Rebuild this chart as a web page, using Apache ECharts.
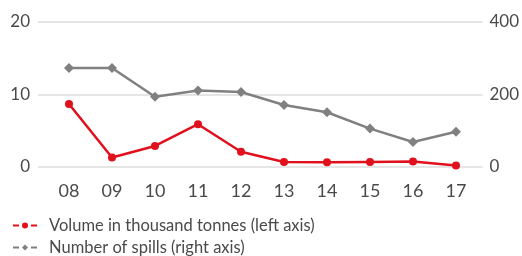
<!DOCTYPE html>
<html><head><meta charset="utf-8">
<script src="https://cdn.jsdelivr.net/npm/echarts@6/dist/echarts.min.js"></script>
<style>html,body{margin:0;padding:0;background:#fff}#c{width:522px;height:256px}</style>
</head><body><div id="c"></div>
<script>
const categories = ['08','09','10','11','12','13','14','15','16','17'];
const volume = [8.7, 1.3, 2.9, 5.9, 2.1, 0.7, 0.65, 0.7, 0.75, 0.2];
const spills = [273, 273, 194, 211, 207, 171, 151, 106, 69, 97];
const leftTicks = [0, 10, 20];
const rightTicks = [0, 200, 400];
const seriesNames = ['Volume in thousand tonnes (left axis)', 'Number of spills (right axis)'];

const RED = '#e0101c', GRAY = '#808080', TXT = '#4a4a4a';
const FONT = 'Lato';
const ICON_DOT = 'path://M0,2h6v2h-6z M9,3a3,3 0 1,0 6,0a3,3 0 1,0 -6,0z M18,2h6v2h-6z';
const ICON_DIA = 'path://M0,2h6v2h-6z M12,0l3,3l-3,3l-3,-3z M18,2h6v2h-6z';
const legendBase = (name, top, icon) => ({
  orient: 'horizontal', left: 8, top: top, itemWidth: 24, itemHeight: 6, itemGap: 0,
  icon: icon,
  textStyle: {color: TXT, fontSize: 16.5, fontFamily: FONT, padding: [0,0,0,7]},
  data: [name]
});
const chart = echarts.init(document.getElementById('c'), null, {renderer:'canvas'});
chart.setOption({
  animation: false,
  textStyle: {fontFamily: FONT},
  grid: [
    {left: 69, right: 66, top: 22, bottom: 89},
    {left: 38, right: 39, top: 22, bottom: 89}
  ],
  xAxis: [
    {gridIndex: 0, type: 'category', data: categories, boundaryGap: false,
     axisLine: {show: false}, axisTick: {show: false},
     axisLabel: {color: TXT, fontSize: 18, fontFamily: FONT, margin: 15}},
    {gridIndex: 1, type: 'category', data: categories, show: false}
  ],
  yAxis: [
    {gridIndex: 0, type: 'value', min: leftTicks[0], max: leftTicks[2], interval: 10, show: false},
    {gridIndex: 0, type: 'value', min: rightTicks[0], max: rightTicks[2], interval: 200, show: false},
    {gridIndex: 1, type: 'value', position: 'left', min: leftTicks[0], max: leftTicks[2], interval: 10,
     axisLine: {show: false}, axisTick: {show: false},
     axisLabel: {color: TXT, fontSize: 17, fontFamily: FONT, margin: 8},
     splitLine: {lineStyle: {color: '#dcdcdc', width: 1.5}}},
    {gridIndex: 1, type: 'value', position: 'right', min: rightTicks[0], max: rightTicks[2], interval: 200,
     axisLine: {show: false}, axisTick: {show: false},
     axisLabel: {color: TXT, fontSize: 17, fontFamily: FONT, margin: 7},
     splitLine: {show: false}}
  ],
  legend: [
    legendBase(seriesNames[0], 212, ICON_DOT),
    legendBase(seriesNames[1], 234, ICON_DIA)
  ],
  series: [
    {name: seriesNames[0], type: 'line', xAxisIndex: 0, yAxisIndex: 0, data: volume,
     symbol: 'circle', symbolSize: 8, showSymbol: true,
     lineStyle: {color: RED, width: 2.5}, itemStyle: {color: RED}, z: 3},
    {name: seriesNames[1], type: 'line', xAxisIndex: 0, yAxisIndex: 1, data: spills,
     symbol: 'diamond', symbolSize: 10, showSymbol: true,
     lineStyle: {color: GRAY, width: 2.5}, itemStyle: {color: GRAY}, z: 2}
  ]
});
</script></body></html>
